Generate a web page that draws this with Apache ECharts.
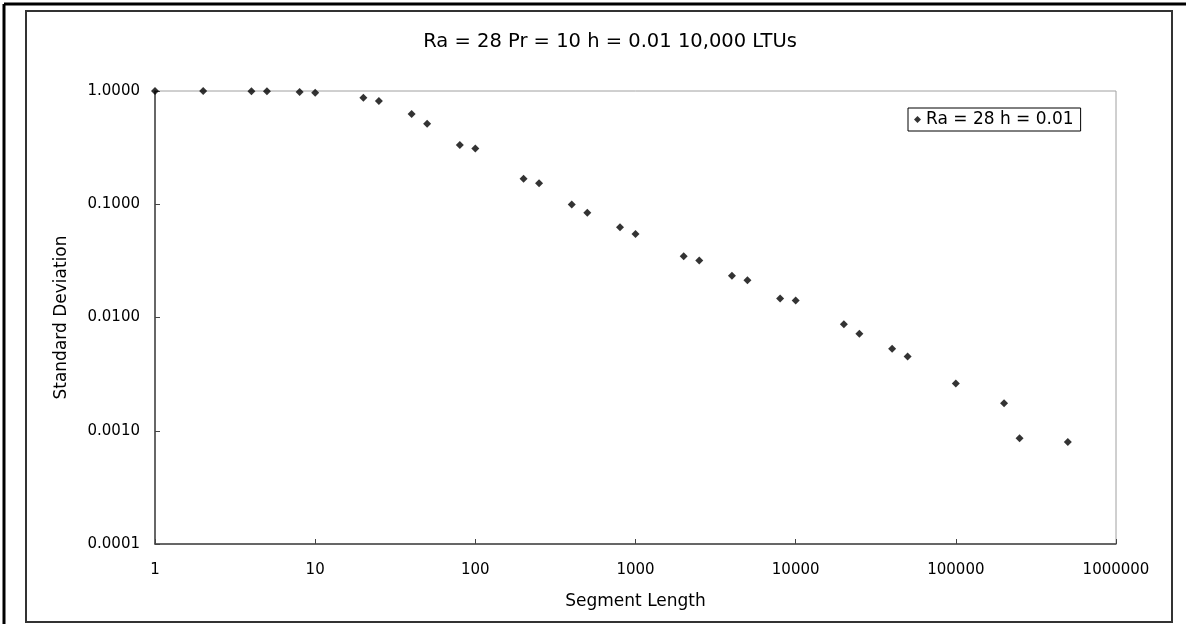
<!DOCTYPE html>
<html>
<head>
<meta charset="utf-8">
<script src="https://cdn.jsdelivr.net/npm/echarts@6/dist/echarts.min.js"></script>
<style>
html,body{margin:0;padding:0;background:#fff;}
#chart{width:1186px;height:624px;}
</style>
</head>
<body>
<div id="chart"></div>
<script>
// Data
const segmentLengths = [1, 2, 4, 5, 8, 10, 20, 25, 40, 50, 80, 100, 200, 250, 400, 500, 800, 1000,
  2000, 2500, 4000, 5000, 8000, 10000, 20000, 25000, 40000, 50000, 100000, 200000, 250000, 500000];
const stdDevs = [1.0, 0.998, 0.994, 0.993, 0.980, 0.966, 0.873, 0.816, 0.627, 0.515, 0.334, 0.310,
  0.168, 0.153, 0.0996, 0.0842, 0.0625, 0.0546, 0.0347, 0.0318, 0.0234, 0.0213, 0.0147, 0.0141,
  0.00873, 0.00718, 0.0053, 0.00453, 0.00262, 0.00175, 0.00086, 0.000797];
const seriesName = 'Ra = 28 h = 0.01';
const titleText = 'Ra = 28 Pr = 10 h = 0.01 10,000 LTUs';
const xTitle = 'Segment Length';
const yTitle = 'Standard Deviation';

const points = segmentLengths.map((x, i) => [x, stdDevs[i]]);
const FONT = 'DejaVu Sans';

const chart = echarts.init(document.getElementById('chart'), null, {renderer: 'canvas'});
chart.setOption({
  animation: false,
  backgroundColor: '#fff',
  textStyle: {fontFamily: FONT},
  grid: {
    left: 155, right: 70, top: 91, bottom: 80,
    show: true, borderColor: '#a0a0a0', borderWidth: 1, backgroundColor: 'transparent'
  },
  legend: {
    show: true,
    left: 908, top: 108,
    padding: [3, 7, 3, 6],
    borderColor: '#000', borderWidth: 1,
    itemWidth: 7, itemHeight: 7, itemGap: 4,
    icon: 'diamond',
    textStyle: {fontFamily: FONT, fontSize: 17, color: '#000'},
    data: [seriesName]
  },
  xAxis: {
    type: 'log', logBase: 10, min: 1, max: 1000000,
    name: xTitle, nameLocation: 'middle', nameGap: 49,
    nameTextStyle: {fontFamily: FONT, fontSize: 17, color: '#000'},
    axisLine: {show: true, onZero: false, lineStyle: {color: '#444', width: 1.5}},
    axisTick: {show: true, inside: true, length: 5, lineStyle: {color: '#444'}},
    minorTick: {show: false},
    splitLine: {show: false},
    axisLabel: {fontFamily: FONT, fontSize: 15, color: '#000', margin: 19,
      formatter: v => String(Math.round(v))}
  },
  yAxis: {
    type: 'log', logBase: 10, min: 0.0001, max: 1,
    name: yTitle, nameLocation: 'middle', nameGap: 85, nameRotate: 90,
    nameTextStyle: {fontFamily: FONT, fontSize: 17, color: '#000'},
    axisLine: {show: true, onZero: false, lineStyle: {color: '#444', width: 1.5}},
    axisTick: {show: true, inside: true, length: 5, lineStyle: {color: '#444'}},
    splitLine: {show: false},
    axisLabel: {fontFamily: FONT, fontSize: 15, color: '#000', margin: 15,
      formatter: v => Number(v).toFixed(4)}
  },
  graphic: [
    {type: 'line', shape: {x1: 4, y1: 4, x2: 1186, y2: 4}, style: {stroke: '#000', lineWidth: 3}, silent: true},
    {type: 'line', shape: {x1: 4, y1: 4, x2: 4, y2: 624}, style: {stroke: '#000', lineWidth: 3}, silent: true},
    {type: 'rect', shape: {x: 26, y: 11, width: 1146, height: 611}, style: {fill: 'none', stroke: '#333', lineWidth: 2}, silent: true},
    {type: 'text', x: 610, y: 42, style: {text: titleText, fontFamily: FONT, fontSize: 19.5, fill: '#000', textAlign: 'center', textVerticalAlign: 'middle'}, silent: true}
  ],
  series: [{
    name: seriesName,
    type: 'scatter',
    symbol: 'diamond',
    symbolSize: 8,
    itemStyle: {color: '#000'},
    data: points
  }]
});
</script>
</body>
</html>
